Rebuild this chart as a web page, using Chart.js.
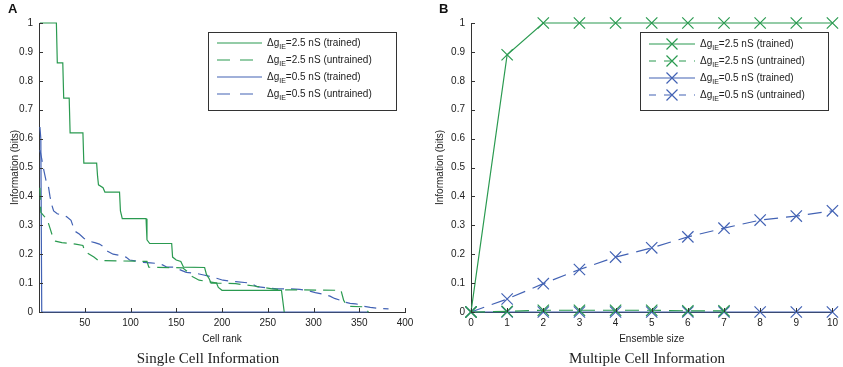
<!DOCTYPE html>
<html>
<head>
  <meta charset="utf-8">
  <title>Single and Multiple Cell Information</title>
  <script src="https://cdn.jsdelivr.net/npm/chart.js"></script>
  <style>
    body {
      margin: 0;
      width: 843px;
      height: 367px;
      background: #fff;
      font-family: "Liberation Sans", Arial, sans-serif;
      position: relative;
      overflow: hidden;
    }
    .panel {
      position: absolute;
      top: 0;
      height: 367px;
    }
    #panelA { left: 0; width: 420px; }
    #panelB { left: 420px; width: 423px; }
    .letter {
      position: absolute;
      top: 1px;
      font-weight: bold;
      font-size: 13px;
      color: #111;
    }
    .caption {
      position: absolute;
      top: 350px;
      font-family: "Liberation Serif", "Times New Roman", serif;
      font-size: 15px;
      color: #222;
      transform: translateX(-50%);
      white-space: nowrap;
    }
  </style>
</head>
<body>
<div class="panel" id="panelA"><canvas id="chartA"></canvas></div>
<div class="panel" id="panelB"><canvas id="chartB"></canvas></div>
<div class="letter" style="left:8px">A</div>
<div class="letter" style="left:439px">B</div>
<div class="caption" style="left:208px">Single Cell Information</div>
<div class="caption" style="left:647px">Multiple Cell Information</div>

<script>
  // ----- legend text (subscript IE drawn smaller) -----
  const legendSuffixes = [
    '=2.5 nS (trained)',
    '=2.5 nS (untrained)',
    '=0.5 nS (trained)',
    '=0.5 nS (untrained)'
  ];

  // ----- Panel A: single cell information vs cell rank -----
  const aGreenTrainedRank = [1, 19, 20, 26, 27, 33, 34, 48, 49, 63, 64, 65, 70, 72, 88, 89, 91, 117, 118, 121, 145, 146, 150, 155, 158, 181, 183, 186, 188, 194, 196, 200, 265, 268];
  const aGreenTrainedInfo = [1, 1, 0.862, 0.862, 0.74, 0.74, 0.62, 0.62, 0.515, 0.515, 0.47, 0.44, 0.43, 0.415, 0.415, 0.35, 0.323, 0.323, 0.25, 0.237, 0.237, 0.19, 0.18, 0.175, 0.155, 0.154, 0.13, 0.115, 0.1, 0.1, 0.085, 0.075, 0.075, 0];

  const aGreenUntrainedRank = [1, 2, 6, 9, 12, 15, 18, 25, 40, 48, 50, 55, 60, 65, 118, 120, 157, 162, 166, 175, 185, 195, 215, 235, 245, 255, 265, 330, 333, 337, 355, 360];
  const aGreenUntrainedInfo = [0.43, 0.345, 0.33, 0.32, 0.29, 0.26, 0.245, 0.24, 0.235, 0.23, 0.21, 0.2, 0.19, 0.178, 0.175, 0.155, 0.153, 0.14, 0.125, 0.11, 0.105, 0.1, 0.098, 0.09, 0.085, 0.08, 0.077, 0.075, 0.04, 0.02, 0.018, 0];

  const aBlueTrainedRank = [1, 2, 3, 360];
  const aBlueTrainedInfo = [0.64, 0.6, 0, 0];

  const aBlueUntrainedRank = [1, 3, 4, 6, 8, 10, 12, 14, 16, 20, 26, 30, 35, 39, 44, 49, 55, 61, 66, 71, 75, 81, 90, 95, 99, 105, 114, 122, 129, 135, 140, 147, 155, 161, 168, 173, 180, 188, 195, 201, 215, 231, 238, 250, 260, 275, 285, 293, 302, 310, 318, 323, 330, 333, 340, 346, 352, 355, 362, 370, 382];
  const aBlueUntrainedInfo = [0.56, 0.53, 0.51, 0.48, 0.45, 0.44, 0.4, 0.37, 0.35, 0.34, 0.335, 0.33, 0.317, 0.28, 0.27, 0.255, 0.245, 0.24, 0.235, 0.225, 0.21, 0.2, 0.195, 0.19, 0.18, 0.177, 0.172, 0.17, 0.168, 0.163, 0.155, 0.155, 0.145, 0.137, 0.135, 0.133, 0.128, 0.122, 0.116, 0.11, 0.105, 0.1, 0.088, 0.083, 0.08, 0.08, 0.078, 0.075, 0.067, 0.062, 0.055, 0.047, 0.04, 0.035, 0.03, 0.028, 0.025, 0.02, 0.016, 0.013, 0.011];

  const aRankTicks = [0, 50, 100, 150, 200, 250, 300, 350, 400];

  // ----- Panel B: multiple cell information vs ensemble size -----
  const ensembleSize = [0, 1, 2, 3, 4, 5, 6, 7, 8, 9, 10];
  const bGreenTrained = [0, 0.89, 1, 1, 1, 1, 1, 1, 1, 1, 1];
  const bGreenUntrained = [0, 0.002, 0.006, 0.006, 0.006, 0.006, 0.004, 0.004];
  const bBlueTrained = [0, 0, 0, 0, 0, 0, 0, 0, 0, 0, 0];
  const bBlueUntrained = [0, 0.045, 0.098, 0.147, 0.19, 0.222, 0.26, 0.29, 0.318, 0.332, 0.35];

  const infoTicks = [0, 0.1, 0.2, 0.3, 0.4, 0.5, 0.6, 0.7, 0.8, 0.9, 1];

  const GREEN = '#2a9a50';
  const BLUE = '#4262b4';
  const AXIS = '#333';

  function pairs(xs, ys) {
    return ys.map((y, i) => ({ x: xs[i], y: y }));
  }

  // small inward tick marks along the left and bottom axes
  const inwardTicks = {
    id: 'inwardTicks',
    afterDraw(chart) {
      const ctx = chart.ctx;
      const area = chart.chartArea;
      const xs = chart.scales.x, ys = chart.scales.y;
      ctx.save();
      ctx.strokeStyle = AXIS;
      ctx.lineWidth = 1;
      ctx.beginPath();
      ys.ticks.forEach(t => {
        const y = Math.round(ys.getPixelForValue(t.value)) + 0.5;
        ctx.moveTo(area.left, y);
        ctx.lineTo(area.left + 4, y);
      });
      xs.ticks.forEach(t => {
        const x = Math.round(xs.getPixelForValue(t.value)) + 0.5;
        ctx.moveTo(x, area.bottom);
        ctx.lineTo(x, area.bottom - 4);
      });
      ctx.stroke();
      ctx.restore();
    }
  };

  // boxed legend with subscripted labels
  const boxLegend = {
    id: 'boxLegend',
    afterDraw(chart, args, opts) {
      const ctx = chart.ctx;
      const b = opts.box;
      ctx.save();
      ctx.fillStyle = '#fff';
      ctx.fillRect(b.x, b.y, b.w, b.h);
      ctx.strokeStyle = AXIS;
      ctx.lineWidth = 1;
      ctx.strokeRect(b.x + 0.5, b.y + 0.5, b.w, b.h);
      chart.data.datasets.forEach((ds, i) => {
        const y = b.y + opts.firstRow + i * opts.rowGap;
        const x0 = b.x + opts.sampleLeft, x1 = x0 + opts.sampleWidth;
        ctx.strokeStyle = ds.borderColor;
        ctx.lineWidth = ds.borderWidth;
        ctx.setLineDash(ds.borderDash && ds.borderDash.length ? opts.legendDash : []);
        ctx.beginPath();
        ctx.moveTo(x0, y);
        ctx.lineTo(x1, y);
        ctx.stroke();
        ctx.setLineDash([]);
        if (opts.markers) {
          const mx = (x0 + x1) / 2, r = 5.5;
          ctx.lineWidth = 1.2;
          ctx.beginPath();
          ctx.moveTo(mx - r, y - r); ctx.lineTo(mx + r, y + r);
          ctx.moveTo(mx + r, y - r); ctx.lineTo(mx - r, y + r);
          ctx.stroke();
        }
        let tx = b.x + opts.textLeft;
        ctx.fillStyle = '#222';
        ctx.textBaseline = 'middle';
        ctx.font = '10px "Liberation Sans", Arial, sans-serif';
        ctx.fillText('\u0394g', tx, y);
        tx += ctx.measureText('\u0394g').width;
        ctx.font = '7px "Liberation Sans", Arial, sans-serif';
        ctx.fillText('IE', tx, y + 4);
        tx += ctx.measureText('IE').width;
        ctx.font = '10px "Liberation Sans", Arial, sans-serif';
        ctx.fillText(legendSuffixes[i], tx, y);
      });
      ctx.restore();
    }
  };

  const tickFont = { family: '"Liberation Sans", Arial, sans-serif', size: 10 };
  const noGrid = { display: false, drawTicks: false, tickLength: 0 };

  function yAxis(titlePad) {
    return {
      type: 'linear',
      min: 0,
      max: 1,
      afterBuildTicks: s => { s.ticks = infoTicks.map(v => ({ value: v })); },
      afterFit: s => { s.width = 39; },
      grid: noGrid,
      border: { display: true, color: AXIS, width: 1 },
      ticks: { font: tickFont, color: '#222', padding: 6, callback: v => String(+v.toFixed(1)) },
      title: { display: true, text: 'Information (bits)', font: tickFont, color: '#222', padding: { top: titlePad, bottom: 0 } }
    };
  }

  Chart.defaults.animation = false;

  new Chart(document.getElementById('chartA'), {
    type: 'line',
    data: {
      datasets: [
        { label: 'trained 2.5', data: pairs(aGreenTrainedRank, aGreenTrainedInfo), borderColor: GREEN, borderWidth: 1.2, borderDash: [], pointRadius: 0, clip: false },
        { label: 'untrained 2.5', data: pairs(aGreenUntrainedRank, aGreenUntrainedInfo), borderColor: GREEN, borderWidth: 1.2, borderDash: [12, 7], pointRadius: 0, clip: false },
        { label: 'trained 0.5', data: pairs(aBlueTrainedRank, aBlueTrainedInfo), borderColor: BLUE, borderWidth: 1.2, borderDash: [], pointRadius: 0, clip: false },
        { label: 'untrained 0.5', data: pairs(aBlueUntrainedRank, aBlueUntrainedInfo), borderColor: BLUE, borderWidth: 1.2, borderDash: [12, 7], pointRadius: 0, clip: false }
      ]
    },
    options: {
      responsive: true,
      maintainAspectRatio: false,
      layout: { padding: { left: 0, right: 15, top: 23, bottom: 22 } },
      plugins: {
        legend: { display: false },
        tooltip: { enabled: false },
        boxLegend: { box: { x: 208, y: 32, w: 188, h: 78 }, firstRow: 11, rowGap: 17, sampleLeft: 9, sampleWidth: 45, textLeft: 59, legendDash: [13, 10], markers: false }
      },
      scales: {
        x: {
          type: 'linear',
          min: 0,
          max: 400,
          afterBuildTicks: s => { s.ticks = aRankTicks.map(v => ({ value: v })); },
          afterFit: s => { s.height = 33; },
          grid: noGrid,
          border: { display: true, color: AXIS, width: 1 },
          ticks: { font: tickFont, color: '#222', padding: 5, callback: v => v === 0 ? '' : String(v) },
          title: { display: true, text: 'Cell rank', font: tickFont, color: '#222', padding: { top: 0, bottom: 0 } }
        },
        y: yAxis(9)
      }
    },
    plugins: [inwardTicks, boxLegend]
  });

  new Chart(document.getElementById('chartB'), {
    type: 'line',
    data: {
      datasets: [
        { label: 'trained 2.5', data: pairs(ensembleSize, bGreenTrained), borderColor: GREEN, borderWidth: 1.2, borderDash: [], pointStyle: 'crossRot', pointRadius: 8, pointBorderWidth: 1.2, pointBorderColor: GREEN, clip: false },
        { label: 'untrained 2.5', data: pairs(ensembleSize, bGreenUntrained), borderColor: GREEN, borderWidth: 1.2, borderDash: [14, 8], pointStyle: 'crossRot', pointRadius: 8, pointBorderWidth: 1.2, pointBorderColor: GREEN, clip: false },
        { label: 'trained 0.5', data: pairs(ensembleSize, bBlueTrained), borderColor: BLUE, borderWidth: 1.2, borderDash: [], pointStyle: 'crossRot', pointRadius: 8, pointBorderWidth: 1.2, pointBorderColor: BLUE, clip: false },
        { label: 'untrained 0.5', data: pairs(ensembleSize, bBlueUntrained), borderColor: BLUE, borderWidth: 1.2, borderDash: [14, 8], pointStyle: 'crossRot', pointRadius: 8, pointBorderWidth: 1.2, pointBorderColor: BLUE, clip: false }
      ]
    },
    options: {
      responsive: true,
      maintainAspectRatio: false,
      layout: { padding: { left: 12, right: 5, top: 23, bottom: 22 } },
      plugins: {
        legend: { display: false },
        tooltip: { enabled: false },
        boxLegend: { box: { x: 220, y: 32, w: 188, h: 78 }, firstRow: 12, rowGap: 17, sampleLeft: 9, sampleWidth: 46, textLeft: 60, legendDash: [7, 8], markers: true }
      },
      scales: {
        x: {
          type: 'linear',
          min: 0,
          max: 10,
          afterBuildTicks: s => { s.ticks = ensembleSize.map(v => ({ value: v })); },
          afterFit: s => { s.height = 33; },
          grid: noGrid,
          border: { display: true, color: AXIS, width: 1 },
          ticks: { font: tickFont, color: '#222', padding: 5 },
          title: { display: true, text: 'Ensemble size', font: tickFont, color: '#222', padding: { top: 0, bottom: 0 } }
        },
        y: yAxis(2)
      }
    },
    plugins: [inwardTicks, boxLegend]
  });
</script>
</body>
</html>
